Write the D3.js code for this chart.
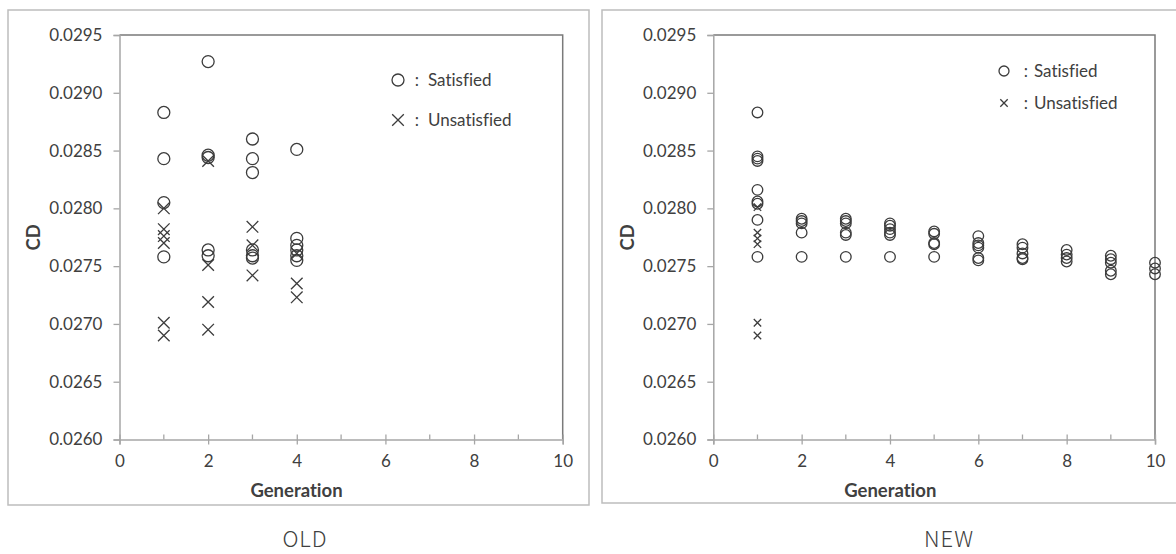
<!DOCTYPE html>
<html>
<head>
<meta charset="utf-8">
<script src="https://cdn.jsdelivr.net/npm/d3@7"></script>
<style>
  body { margin: 0; background: #fff; }
  svg text { font-family: Lato, "Liberation Sans", sans-serif; fill: #404040; font-variant-ligatures: none; }
</style>
</head>
<body>
<svg id="chart" width="1176" height="554"></svg>
<script>
var xTicks = [0, 2, 4, 6, 8, 10];
var yTicks = [0.0260, 0.0265, 0.0270, 0.0275, 0.0280, 0.0285, 0.0290, 0.0295];
var legendLabels = ["Satisfied", "Unsatisfied"];

// [generation, CD]
var oldSatisfied = [
  [1,0.02883],[1,0.02843],[1,0.02805],[1,0.02758],
  [2,0.02927],[2,0.02846],[2,0.02844],[2,0.02764],[2,0.02759],
  [3,0.02860],[3,0.02843],[3,0.02831],[3,0.02764],[3,0.02759],[3,0.02757],
  [4,0.02851],[4,0.02774],[4,0.02768],[4,0.02764],[4,0.02759],[4,0.02755]
];
var oldUnsatisfied = [
  [1,0.02800],[1,0.02782],[1,0.02776],[1,0.02770],[1,0.02701],[1,0.02690],
  [2,0.02841],[2,0.02751],[2,0.02719],[2,0.02695],
  [3,0.02784],[3,0.02768],[3,0.02742],
  [4,0.02761],[4,0.02735],[4,0.02723]
];
var newSatisfied = [
  [1,0.02883],[1,0.02845],[1,0.02843],[1,0.02841],[1,0.02816],[1,0.02806],[1,0.02804],[1,0.02790],[1,0.02758],
  [2,0.02791],[2,0.02789],[2,0.02787],[2,0.02779],[2,0.02758],
  [3,0.02791],[3,0.02789],[3,0.02787],[3,0.02779],[3,0.02777],[3,0.02758],
  [4,0.02787],[4,0.02785],[4,0.02782],[4,0.02779],[4,0.02777],[4,0.02758],
  [5,0.02780],[5,0.02778],[5,0.02770],[5,0.02769],[5,0.02758],
  [6,0.02776],[6,0.02770],[6,0.02768],[6,0.02766],[6,0.02757],[6,0.02755],
  [7,0.02769],[7,0.02766],[7,0.02761],[7,0.02757],[7,0.02756],
  [8,0.02764],[8,0.02760],[8,0.02757],[8,0.02754],
  [9,0.02759],[9,0.02756],[9,0.02753],[9,0.02746],[9,0.02743],
  [10,0.02753],[10,0.02748],[10,0.02743]
];
var newUnsatisfied = [
  [1,0.02801],[1,0.02779],[1,0.02774],[1,0.02769],[1,0.02701],[1,0.02690]
];

var svg = d3.select("#chart");

function crossPath(a) {
  return "M" + (-a) + "," + (-a) + "L" + a + "," + a + "M" + (-a) + "," + a + "L" + a + "," + (-a);
}

function drawPanel(p) {
  var g = svg.append("g");

  // outer frame
  g.append("rect")
    .attr("x", p.frame[0]).attr("y", p.frame[1])
    .attr("width", p.frame[2]).attr("height", p.frame[3])
    .attr("fill", "none").attr("stroke", "#bdbdbd").attr("stroke-width", 1.5);

  var x = d3.scaleLinear().domain([0, 10]).range([p.left, p.right]);
  var y = d3.scaleLinear().domain([0.0260, 0.0295]).range([p.bottom, p.top]);

  // top + right border of plot area
  g.append("path")
    .attr("d", "M" + p.left + "," + p.top + "H" + p.right + "V" + p.bottom)
    .attr("fill", "none").attr("stroke", "#7a7a7a").attr("stroke-width", 1.5);

  // y axis
  var yAxis = g.append("g").attr("transform", "translate(" + p.left + ",0)")
    .call(d3.axisLeft(y).tickValues(yTicks).tickSize(6).tickPadding(11).tickFormat(d3.format(".4f")));
  yAxis.select(".domain").attr("stroke", "#a6a6a6").attr("stroke-width", 1.5);
  yAxis.selectAll(".tick line").attr("stroke", "#a6a6a6").attr("stroke-width", 1.3);
  yAxis.selectAll("text").style("font-size", "17px").attr("fill", "#404040");

  // x axis: major cross ticks, minor inside ticks
  var xAxis = g.append("g").attr("transform", "translate(0," + p.bottom + ")")
    .call(d3.axisBottom(x).tickValues(xTicks).tickSize(5).tickPadding(10));
  xAxis.select(".domain").attr("stroke", "#a6a6a6").attr("stroke-width", 1.5);
  xAxis.selectAll(".tick line").attr("y1", -5).attr("stroke", "#a6a6a6").attr("stroke-width", 1.3);
  xAxis.selectAll("text").style("font-size", "17px").attr("fill", "#404040");
  xAxis.selectAll(".minor").data(d3.range(1, 10, 2)).enter().append("line")
    .attr("x1", function(d) { return x(d); }).attr("x2", function(d) { return x(d); })
    .attr("y1", 0).attr("y2", -5)
    .attr("stroke", "#a6a6a6").attr("stroke-width", 1.3);

  // axis titles
  g.append("text")
    .attr("transform", "translate(" + (p.left - 86) + "," + ((p.top + p.bottom) / 2) + ") rotate(-90)")
    .attr("text-anchor", "middle").attr("dy", "0.35em")
    .style("font-size", "18.5px").style("font-weight", "bold")
    .text("CD");
  g.append("text")
    .attr("x", p.left + 177).attr("y", p.bottom + 51).attr("dy", "0.35em")
    .attr("text-anchor", "middle")
    .style("font-size", "18.5px").style("font-weight", "bold")
    .text("Generation");

  // points
  g.selectAll(".sat").data(p.sat).enter().append("circle")
    .attr("cx", function(d) { return x(d[0]); })
    .attr("cy", function(d) { return y(d[1]); })
    .attr("r", p.r)
    .attr("fill", "none").attr("stroke", "#3c3c3c").attr("stroke-width", 1.3);

  g.selectAll(".unsat").data(p.unsat).enter().append("path")
    .attr("d", crossPath(p.xa))
    .attr("transform", function(d) { return "translate(" + x(d[0]) + "," + y(d[1]) + ")"; })
    .attr("fill", "none").attr("stroke", "#3c3c3c").attr("stroke-width", 1.3);

  // legend
  var lg = g.append("g");
  lg.append("circle").attr("cx", p.legend[0]).attr("cy", p.legend[1]).attr("r", p.lr)
    .attr("fill", "none").attr("stroke", "#3c3c3c").attr("stroke-width", 1.3);
  lg.append("path").attr("d", crossPath(p.lxa))
    .attr("transform", "translate(" + p.legend[0] + "," + p.legend[2] + ")")
    .attr("fill", "none").attr("stroke", "#3c3c3c").attr("stroke-width", 1.3);
  [p.legend[1], p.legend[2]].forEach(function(ly, i) {
    lg.append("text").attr("x", p.legend[0] + p.colonDx).attr("y", ly).attr("dy", "0.35em")
      .attr("text-anchor", "middle").style("font-size", "17px").text(":");
    lg.append("text").attr("x", p.legend[0] + p.labelDx).attr("y", ly).attr("dy", "0.35em")
      .style("font-size", "17px").text(legendLabels[i]);
  });

  // caption under the frame
  svg.append("text")
    .attr("x", p.caption[0]).attr("y", p.caption[1]).attr("dy", "0.35em")
    .attr("text-anchor", "middle")
    .style("font-family", "'Noto Sans CJK JP', 'Noto Sans', sans-serif")
    .style("font-size", "22px").style("font-weight", 300).style("letter-spacing", "1px")
    .attr("fill", "#3a3a3a")
    .text(p.title);
}

drawPanel({
  title: "OLD", frame: [8, 10, 581, 495],
  left: 119.5, right: 562.7, top: 35, bottom: 439.5,
  sat: oldSatisfied, unsat: oldUnsatisfied, r: 6, xa: 5.8,
  legend: [398, 80, 120], lr: 6, lxa: 5.8, colonDx: 19, labelDx: 30,
  caption: [305, 539]
});

drawPanel({
  title: "NEW", frame: [602, 10, 600, 493],
  left: 713.3, right: 1155, top: 35, bottom: 439.5,
  sat: newSatisfied, unsat: newUnsatisfied, r: 5.3, xa: 3.7,
  legend: [1004, 71, 103], lr: 5, lxa: 3.7, colonDx: 22, labelDx: 30,
  caption: [949, 539]
});
</script>
</body>
</html>
